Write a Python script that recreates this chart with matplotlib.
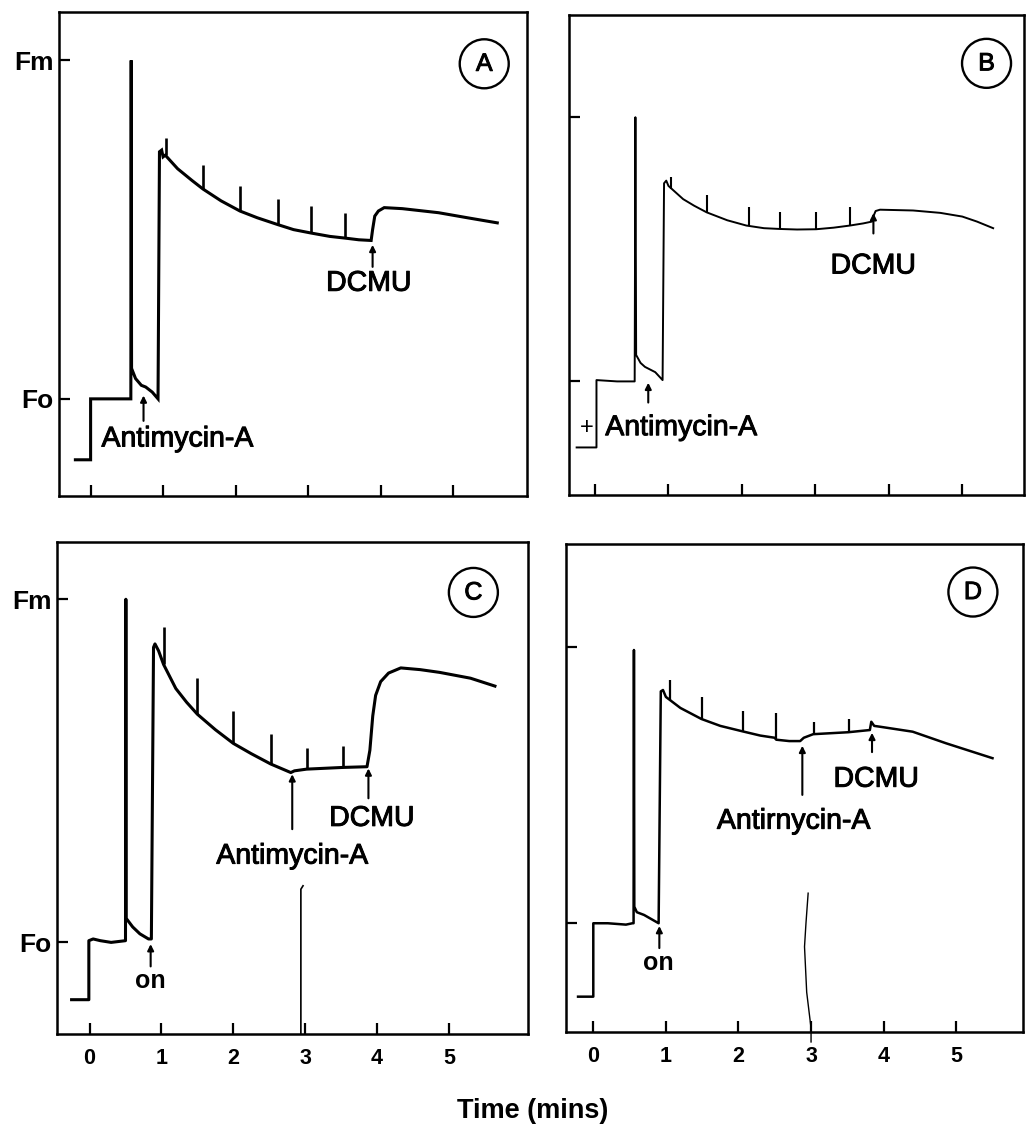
import matplotlib.pyplot as plt
import matplotlib.patheffects as pe

plt.rcParams['font.family'] = ['Liberation Sans', 'DejaVu Sans']

# shared axes
time_ticks = [0, 1, 2, 3, 4, 5]
level_ticks = [0, 1]
level_labels = ['Fo', 'Fm']

# fluorescence traces, time in min, level scaled so Fo = 0 and Fm = 1
# Panel A
a_t = [-0.21, 0.0, 0.0, 0.30, 0.555, 0.56, 0.565, 0.62, 0.70, 0.76, 0.85, 0.93,
       0.95, 0.98, 1.00, 1.03, 1.2, 1.4, 1.55, 1.8, 2.06, 2.3, 2.58, 2.8, 3.04,
       3.3, 3.51, 3.7, 3.87, 3.89, 3.92, 3.97, 4.05, 4.3, 4.8, 5.2, 5.61]
a_f = [-0.18, -0.18, 0.0, 0.0, 0.0, 1.0, 0.09, 0.06, 0.04, 0.035, 0.02, 0.0,
       0.73, 0.735, 0.715, 0.72, 0.68, 0.645, 0.62, 0.585, 0.555, 0.535, 0.515, 0.50, 0.49,
       0.48, 0.475, 0.47, 0.468, 0.50, 0.54, 0.555, 0.565, 0.562, 0.55, 0.535, 0.52]
a_flash_t = [1.04, 1.55, 2.06, 2.58, 3.04, 3.51]
a_flash_lo = [0.72, 0.62, 0.555, 0.515, 0.49, 0.475]
a_flash_hi = [0.77, 0.69, 0.63, 0.59, 0.57, 0.55]

# Panel B
b_t = [-0.25, 0.02, 0.02, 0.3, 0.54, 0.55, 0.56, 0.62, 0.68, 0.75,
       0.82, 0.92, 0.94, 0.97, 1.0, 1.04, 1.2, 1.35, 1.52, 1.8,
       2.06, 2.3, 2.52, 2.75, 3.01, 3.25, 3.47, 3.65, 3.77, 3.79,
       3.82, 3.88, 4.33, 4.7, 5.0, 5.2, 5.42]
b_f = [-0.25, -0.25, 0.005, 0.0, 0.0, 1.0, 0.10, 0.07, 0.055, 0.045,
       0.035, 0.005, 0.75, 0.76, 0.74, 0.73, 0.69, 0.665, 0.64, 0.61,
       0.59, 0.58, 0.577, 0.575, 0.576, 0.582, 0.59, 0.598, 0.605, 0.625,
       0.645, 0.65, 0.647, 0.638, 0.624, 0.605, 0.58]
b_flash_t = [1.04, 1.52, 2.09, 2.52, 3.01, 3.47]
b_flash_lo = [0.73, 0.64, 0.59, 0.577, 0.576, 0.59]
b_flash_hi = [0.775, 0.705, 0.66, 0.64, 0.64, 0.66]

# Panel C
c_t = [-0.25, -0.01, -0.01, 0.05, 0.15, 0.3, 0.50, 0.505, 0.51, 0.6,
       0.7, 0.82, 0.86, 0.89, 0.91, 0.96, 1.03, 1.2, 1.35, 1.5,
       1.75, 2.0, 2.25, 2.52, 2.8, 2.85, 3.02, 3.53, 3.86, 3.90,
       3.94, 3.98, 4.05, 4.16, 4.33, 4.6, 4.87, 5.3, 5.64]
c_f = [-0.167, -0.167, 0.005, 0.01, 0.005, 0.0, 0.005, 1.0, 0.07, 0.045,
       0.025, 0.01, 0.01, 0.86, 0.87, 0.85, 0.81, 0.74, 0.70, 0.665,
       0.62, 0.58, 0.55, 0.52, 0.495, 0.50, 0.505, 0.51, 0.512, 0.56,
       0.66, 0.72, 0.76, 0.785, 0.80, 0.795, 0.787, 0.77, 0.747]
c_flash_t = [1.03, 1.5, 2.0, 2.52, 3.02, 3.53]
c_flash_lo = [0.81, 0.665, 0.58, 0.52, 0.505, 0.51]
c_flash_hi = [0.92, 0.77, 0.675, 0.606, 0.567, 0.573]
c_scratch_t = [2.97, 2.94, 2.94]
c_scratch_f = [0.165, 0.155, -0.267]

# Panel D
d_t = [-0.21, 0.0, 0.0, 0.2, 0.45, 0.54, 0.555, 0.56, 0.565, 0.6,
       0.7, 0.8, 0.9, 0.93, 0.96, 1.0, 1.05, 1.2, 1.49, 1.75,
       2.06, 2.3, 2.5, 2.52, 2.7, 2.85, 2.9, 3.03, 3.51, 3.81,
       3.83, 3.87, 3.95, 4.4, 4.86, 5.5]
d_f = [-0.266, -0.266, 0.0, 0.0, -0.005, 0.0, 0.0, 0.99, 0.06, 0.04,
       0.03, 0.015, 0.0, 0.84, 0.845, 0.82, 0.81, 0.78, 0.74, 0.715,
       0.695, 0.68, 0.672, 0.665, 0.66, 0.66, 0.672, 0.685, 0.692, 0.70,
       0.73, 0.715, 0.712, 0.694, 0.652, 0.598]
d_flash_t = [1.05, 1.5, 2.06, 2.52, 3.04, 3.52]
d_flash_lo = [0.81, 0.737, 0.697, 0.665, 0.686, 0.693]
d_flash_hi = [0.88, 0.82, 0.77, 0.763, 0.728, 0.74]
d_scratch_t = [2.96, 2.93, 2.91, 2.94, 3.0, 3.0]
d_scratch_f = [0.109, 0.0, -0.085, -0.25, -0.38, -0.43]

W, H = 1026, 1124
fig = plt.figure(figsize=(W / 100, H / 100), dpi=100, facecolor='white')

# scanned print looks slightly heavier than the regular weight
ink = [pe.withStroke(linewidth=0.7, foreground='black')]


def add_panel(left, top, right, bottom, xlim, ylim, ylab, xlab):
    ax = fig.add_axes([left / W, 1 - bottom / H, (right - left) / W, (bottom - top) / H])
    ax.set_xlim(xlim)
    ax.set_ylim(ylim)
    ax.set_xticks(time_ticks)
    ax.set_yticks(level_ticks)
    ax.set_xticklabels([str(v) for v in time_ticks] if xlab else [])
    ax.set_yticklabels(level_labels if ylab else [])
    ax.tick_params(direction='in', length=8, width=1.6)
    ax.tick_params(axis='x', pad=10, labelsize=15.5)
    ax.tick_params(axis='y', pad=4, labelsize=19)
    for lbl in ax.get_xticklabels() + ax.get_yticklabels():
        lbl.set_fontweight('bold')
    for s in ax.spines.values():
        s.set_linewidth(1.8)
    return ax


def arrow(ax, t, y0, y1):
    ax.annotate('', xy=(t, y1), xytext=(t, y0),
                arrowprops=dict(arrowstyle='-|>', color='black', lw=1.5,
                                mutation_scale=9, shrinkA=0, shrinkB=0))


def badge(ax, t, y, s):
    ax.text(t, y, s, ha='center', va='center', fontsize=18, path_effects=ink,
            bbox=dict(boxstyle='circle,pad=0.5', fc='white', ec='black', lw=1.7))


txt = dict(fontsize=20.5, color='black', va='center', path_effects=ink)

# A
ax = add_panel(59, 12, 527, 496, (-0.436, 6.02), (-0.287, 1.143), True, False)
ax.plot(a_t, a_f, color='black', lw=2.2, solid_joinstyle='miter')
ax.vlines(a_flash_t, a_flash_lo, a_flash_hi, color='black', lw=1.9)
arrow(ax, 0.73, -0.065, 0.01)
ax.text(0.15, -0.12, 'Antimycin-A', ha='left', **txt)
arrow(ax, 3.89, 0.39, 0.455)
ax.text(3.84, 0.34, 'DCMU', ha='center', **txt)
badge(ax, 5.43, 0.99, 'A')

# B
ax = add_panel(569, 15, 1024, 495, (-0.354, 5.84), (-0.43, 1.387), False, False)
ax.plot(b_t, b_f, color='black', lw=1.4)
ax.vlines(b_flash_t, b_flash_lo, b_flash_hi, color='black', lw=1.5)
arrow(ax, 0.725, -0.08, -0.005)
ax.text(0.14, -0.177, 'Antimycin-A', ha='left', **txt)
ax.text(-0.11, -0.177, '+', ha='center', fontsize=17, va='center')
arrow(ax, 3.79, 0.56, 0.637)
ax.text(3.79, 0.435, 'DCMU', ha='center', **txt)
badge(ax, 5.33, 1.204, 'B')

# C
ax = add_panel(57, 542, 528, 1034, (-0.453, 6.1), (-0.267, 1.167), True, True)
ax.plot(c_t, c_f, color='black', lw=2.2)
ax.vlines(c_flash_t, c_flash_lo, c_flash_hi, color='black', lw=1.9)
ax.plot(c_scratch_t, c_scratch_f, color='black', lw=1.2)
arrow(ax, 0.85, -0.07, -0.005)
ax.text(0.85, -0.113, 'on', ha='center', fontsize=18, fontweight='bold', va='center')
arrow(ax, 2.82, 0.33, 0.49)
ax.text(2.82, 0.25, 'Antimycin-A', ha='center', **txt)
arrow(ax, 3.88, 0.42, 0.507)
ax.text(3.93, 0.36, 'DCMU', ha='center', **txt)
badge(ax, 5.34, 1.02, 'C')

# D
ax = add_panel(566, 544, 1023, 1032, (-0.376, 5.92), (-0.394, 1.374), False, True)
ax.plot(d_t, d_f, color='black', lw=1.8)
ax.vlines(d_flash_t, d_flash_lo, d_flash_hi, color='black', lw=1.6)
ax.plot(d_scratch_t, d_scratch_f, color='black', lw=1.0, clip_on=False)
arrow(ax, 0.91, -0.09, -0.01)
ax.text(0.9, -0.145, 'on', ha='center', fontsize=18, fontweight='bold', va='center')
arrow(ax, 2.88, 0.465, 0.643)
ax.text(2.76, 0.368, 'Antirnycin-A', ha='center', **txt)
arrow(ax, 3.84, 0.62, 0.69)
ax.text(3.9, 0.52, 'DCMU', ha='center', **txt)
badge(ax, 5.23, 1.20, 'D')

fig.text(533 / W, 1 - 1111 / H, 'Time (mins)', ha='center', va='center',
         fontsize=19.5, fontweight='bold')

fig.savefig('out.png', dpi=100, facecolor='white')
